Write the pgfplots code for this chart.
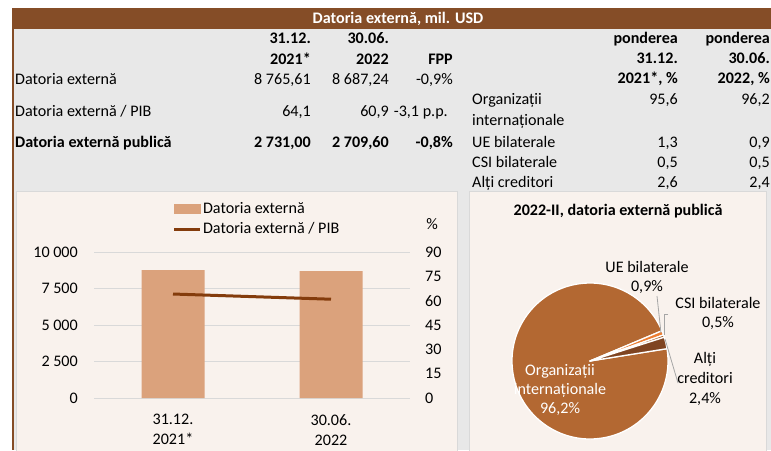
\documentclass[border=0pt]{standalone}
\usepackage{fontspec}
\setmainfont{Carlito}
\usepackage{pgfplots}
\pgfplotsset{compat=1.18}
\definecolor{hdr}{HTML}{854D27}
\definecolor{bgg}{HTML}{E8E8E8}
\definecolor{pan}{HTML}{F9F2ED}
\definecolor{panb}{HTML}{D9D9D9}
\definecolor{barc}{HTML}{DBA27C}
\definecolor{linec}{HTML}{843C0C}
\definecolor{orgc}{HTML}{B36832}
\definecolor{uec}{HTML}{ED7D31}
\definecolor{csic}{HTML}{A65D2A}
\definecolor{altic}{HTML}{7F4421}
\definecolor{leadc}{HTML}{A6A6A6}
\newcommand\fs{\fontsize{16.1}{20}\selectfont}
\begin{document}
\begin{tikzpicture}[x=1pt,y=1pt,font=\fs]
\path[use as bounding box] (0pt,-450pt) rectangle (771pt,0pt);
\begin{scope}[y=-1pt]
\fill[white] (0,0) rectangle (771,450);
\fill[bgg] (13,29) rectangle (771,450);
\fill[hdr] (11.5,8) rectangle (771,29);
\fill[hdr] (11.5,8) rectangle (13.5,450);
\node[white,font=\fs\bfseries] at (398,19) {Datoria externă, mil. USD};
% ---------- left table
\begin{scope}[every node/.style={inner sep=0pt,anchor=base east}]
\node[font=\fs\bfseries] at (311,43) {31.12.};
\node[font=\fs\bfseries] at (389,43) {30.06.};
\node[font=\fs\bfseries] at (311,64) {2021*};
\node[font=\fs\bfseries] at (389,64) {2022};
\node[font=\fs\bfseries] at (453,64) {FPP};
\node[anchor=base west] at (15,84) {Datoria externă};
\node at (311,84) {8 765,61};
\node at (389,84) {8 687,24};
\node at (453,84) {-0,9\%};
\node[anchor=base west] at (15,116) {Datoria externă / PIB};
\node at (311,116) {64,1};
\node at (389,116) {60,9};
\node at (448,116) {-3,1 p.p.};
\node[anchor=base west,font=\fs\bfseries] at (15,147) {Datoria externă publică};
\node[font=\fs\bfseries] at (311,147) {2 731,00};
\node[font=\fs\bfseries] at (389,147) {2 709,60};
\node[font=\fs\bfseries] at (453,147) {-0,8\%};
% ---------- right table
\node[font=\fs\bfseries] at (678,43) {ponderea};
\node[font=\fs\bfseries] at (770,43) {ponderea};
\node[font=\fs\bfseries] at (678,63) {31.12.};
\node[font=\fs\bfseries] at (770,63) {30.06.};
\node[font=\fs\bfseries] at (678,83) {2021*, \%};
\node[font=\fs\bfseries] at (770,83) {2022, \%};
\node[anchor=base west] at (472,104) {Organizații};
\node at (678,104) {95,6};
\node at (770,104) {96,2};
\node[anchor=base west] at (472,125) {internaționale};
\node[anchor=base west] at (472,147) {UE bilaterale};
\node at (678,147) {1,3};
\node at (770,147) {0,9};
\node[anchor=base west] at (472,167) {CSI bilaterale};
\node at (678,167) {0,5};
\node at (770,167) {0,5};
\node[anchor=base west] at (472,187) {Alți creditori};
\node at (678,187) {2,6};
\node at (770,187) {2,4};
\end{scope}
% ---------- panels
\filldraw[fill=pan,draw=panb,line width=1pt] (16.5,191.5) rectangle (457,456);
\filldraw[fill=pan,draw=panb,line width=1pt] (469.5,191.5) rectangle (766,456);
\node[anchor=base,inner sep=0pt] at (432,229) {\%};
\node[font=\fs\bfseries] at (618,211) {2022-II, datoria externă publică};
\end{scope}
% ---------- bar chart
\begin{axis}[at={(94pt,-398pt)},anchor=south west,width=316pt,height=146pt,scale only axis,
  xmin=-0.5,xmax=1.5,ymin=0,ymax=10000,ybar,bar width=63pt,
  scaled y ticks=false,
  xtick={0,1},xticklabels={{31.12.\\2021*},{30.06.\\2022}},
  ytick={0,2500,5000,7500,10000},yticklabels={0,2 500,5 000,7 500,10 000},
  axis line style={draw=none},major tick length=0pt,ymajorgrids,
  grid style={panb,line width=1pt},
  tick label style={font=\fs,inner sep=0pt},
  xticklabel style={align=center,yshift=-16pt},
  yticklabel style={xshift=-16pt},
  clip=false]
\addplot[fill=barc,draw=none] coordinates {(0,8765.61) (1,8687.24)};
\end{axis}
\begin{axis}[at={(94pt,-398pt)},anchor=south west,width=316pt,height=146pt,scale only axis,
  xmin=-0.5,xmax=1.5,ymin=0,ymax=90,ytick={0,15,...,90},xtick=\empty,
  axis y line*=right,axis x line=none,axis line style={draw=none},major tick length=0pt,
  /pgf/number format/assume math mode=true,
  tick label style={font=\fs,inner sep=0pt},yticklabel style={xshift=15pt},
  clip=false,
  legend style={at={(axis description cs:0.248,1.353)},anchor=north west,draw=none,fill=none,
    inner sep=0pt,row sep=3pt,nodes={inner sep=1.5pt,font=\fs,text height=11pt,text depth=3pt}},
  legend cell align=left]
\addlegendimage{legend image code/.code={\fill[barc] (0pt,-4.5pt) rectangle (26pt,4.5pt);}}
\addlegendentry{Datoria externă}
\addplot[linec,line width=3pt,legend image code/.code={\draw[linec,line width=3pt] (0pt,0pt) -- (26pt,0pt);}] coordinates {(0,64.1) (1,60.9)};
\addlegendentry{Datoria externă / PIB}
\end{axis}
% ---------- pie chart
\begin{axis}[at={(512pt,-439pt)},anchor=south west,width=156pt,height=156pt,scale only axis,
  xmin=-1,xmax=1,ymin=-1,ymax=1,hide axis,clip=false]
\foreach \v/\c [remember=\b as \a (initially 9.1)] in {96.2/orgc,0.9/uec,0.5/csic,2.4/altic}{
  \pgfmathsetmacro\b{\a-3.6*\v}
  \edef\temp{\noexpand\fill[\c,draw=white,line width=1.3pt,line join=round] (axis cs:0,0) -- (axis cs:{cos(\a)},{sin(\a)}) arc[start angle=\a,end angle=\b,radius=78pt] -- cycle;}
  \temp
}
\end{axis}
\begin{scope}[y=-1pt]
\draw[leadc,line width=0.8pt] (657,296) -- (661,333);
\draw[leadc,line width=0.8pt] (668,314) -- (664,314) -- (664,335);
\draw[leadc,line width=0.8pt] (665,339) -- (678,383);
\begin{scope}[every node/.style={inner sep=0pt,anchor=base}]
\node[white] at (560,375) {Organizații};
\node[white] at (560,394) {internaționale};
\node[white] at (560,413) {96,2\%};
\node at (647,272) {UE bilaterale};
\node at (647,291) {0,9\%};
\node at (718,308) {CSI bilaterale};
\node at (718,327) {0,5\%};
\node at (705,363) {Alți};
\node at (705,383) {creditori};
\node at (705,403) {2,4\%};
\end{scope}
\end{scope}
\end{tikzpicture}
\end{document}
